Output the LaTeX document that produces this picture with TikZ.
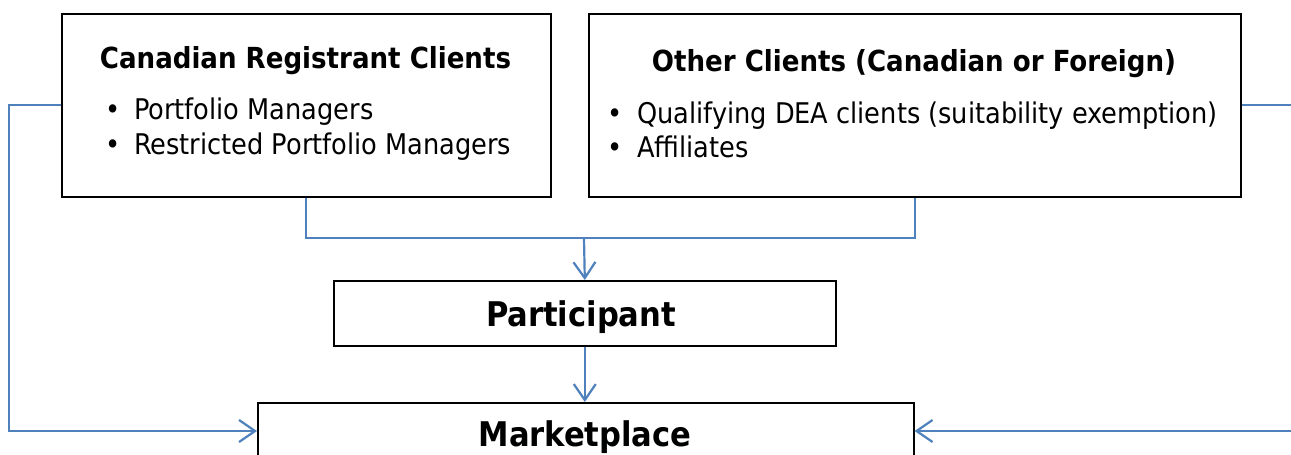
\documentclass[tikz,border=0pt]{standalone}
\usepackage{fontspec}
\setmainfont{DejaVu Sans Condensed}
\usetikzlibrary{arrows.meta}
\definecolor{lineblue}{HTML}{4F81BD}
\begin{document}
\begin{tikzpicture}[x=1pt,y=-1pt,
  box/.style={draw=black, line width=1.6pt, inner sep=0pt, anchor=north west},
  conn/.style={draw=lineblue, line width=2.2pt},
  tip/.style={-{Straight Barb[length=16pt,width=22pt]}},
  title/.style={anchor=base, inner sep=0pt, font=\fontsize{29}{34}\selectfont\bfseries},
  item/.style={anchor=base west, inner sep=0pt, font=\fontsize{28.5}{34}\selectfont},
  big/.style={anchor=base, inner sep=0pt, font=\fontsize{34}{40}\selectfont\bfseries}]
\clip (0,0) rectangle (1291,455);
\fill[white] (0,0) rectangle (1291,455);
% boxes
\node[box, minimum width=489pt, minimum height=183pt] (crc) at (61,13) {};
\node[box, minimum width=652pt, minimum height=183pt] (oc) at (588,13) {};
\node[box, minimum width=502pt, minimum height=65pt] (part) at (333,280) {};
\node[box, minimum width=656pt, minimum height=80pt] (mkt) at (257,402) {};
% texts
\node[title] (crct) at (305.5,68) {Canadian Registrant Clients};
\node[item] (crc1) at (105,119) {\makebox[29pt][l]{•}Portfolio Managers};
\node[item] (crc2) at (105,154) {\makebox[29pt][l]{•}Restricted Portfolio Managers};
\node[title] (oct) at (914,71) {Other Clients (Canadian or Foreign)};
\node[item] (oc1) at (607,123) {\makebox[30pt][l]{•}Qualifying DEA clients (suitability exemption)};
\node[item] (oc2) at (607,157) {\makebox[30pt][l]{•}Affiliates};
\node[big] (partt) at (581,326) {Participant};
\node[big] (mktt) at (585,446) {Marketplace};
% connectors
\coordinate (j) at (584,238);
\coordinate (lb) at (9,431);
\coordinate (rb) at (1300,431);
\draw[conn] (crc.south) |- (j) -| (oc.south);
\draw[conn,tip] (j) -- (part.north);
\draw[conn,tip] (part.south) -- (part.south |- mkt.north);
\draw[conn,tip] (crc.west) -| (lb) -- (mkt.west |- lb);
\draw[conn,tip] (oc.east) -| (rb) -- (mkt.east |- rb);
\end{tikzpicture}
\end{document}
